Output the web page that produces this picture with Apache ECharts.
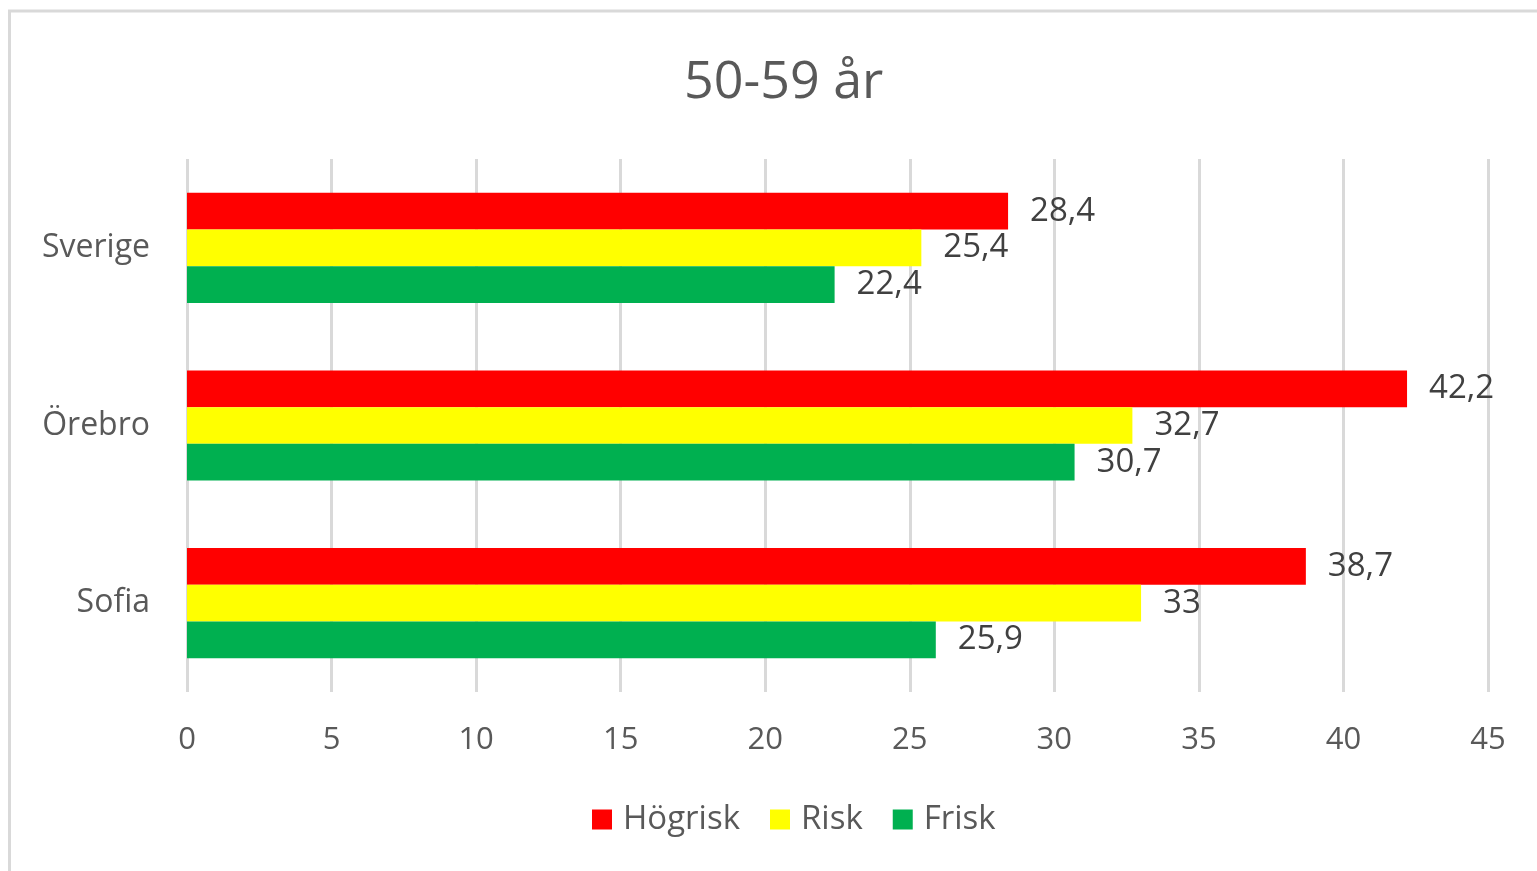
<!DOCTYPE html>
<html>
<head>
<meta charset="utf-8">
<script src="https://cdn.jsdelivr.net/npm/echarts@6/dist/echarts.min.js"></script>
<style>
html,body{margin:0;padding:0;background:#fff;}
#chart{width:1537px;height:871px;}
</style>
</head>
<body>
<div id="chart"></div>
<script>
var title = '50-59 år';
var categories = ['Sverige', 'Örebro', 'Sofia'];
var seriesNames = ['Högrisk', 'Risk', 'Frisk'];
var hogrisk = [28.4, 42.2, 38.7];
var risk = [25.4, 32.7, 33];
var frisk = [22.4, 30.7, 25.9];
var colors = ['#ff0000', '#ffff00', '#00b050'];
var seriesData = [hogrisk, risk, frisk];

var font = '"Open Sans", sans-serif';
var chart = echarts.init(document.getElementById('chart'));
chart.setOption({
  animation: false,
  backgroundColor: '#fff',
  graphic: [{
    type: 'rect',
    shape: {x: 9.5, y: 11, width: 1700, height: 1000},
    style: {fill: 'none', stroke: '#d9d9d9', lineWidth: 3},
    silent: true
  }],
  title: {
    text: title,
    left: 679,
    top: 52,
    textStyle: {fontFamily: font, fontSize: 52, fontWeight: 'normal', color: '#595959'}
  },
  legend: {
    bottom: 30,
    left: 587,
    itemWidth: 20,
    itemHeight: 20,
    itemGap: 30,
    icon: 'rect',
    textStyle: {fontFamily: font, fontSize: 33, color: '#595959', padding: [0, 0, 0, 6]},
    data: seriesNames
  },
  grid: {left: 187, right: 49, top: 159, bottom: 179, containLabel: false},
  xAxis: {
    type: 'value',
    min: 0, max: 45, interval: 5,
    axisLine: {show: false},
    axisTick: {show: false},
    splitLine: {show: true, lineStyle: {color: '#d9d9d9', width: 3}},
    axisLabel: {fontFamily: font, fontSize: 31, color: '#595959', margin: 33}
  },
  yAxis: {
    type: 'category',
    inverse: true,
    data: categories,
    axisLine: {show: false},
    axisTick: {show: false},
    axisLabel: {fontFamily: font, fontSize: 32, color: '#595959', margin: 37}
  },
  series: seriesNames.map(function (n, i) {
    return {
      name: n,
      type: 'bar',
      data: seriesData[i],
      barGap: '0%',
      barCategoryGap: '38%',
      itemStyle: {color: colors[i]},
      label: {
        show: true,
        position: 'right',
        distance: 22,
        fontFamily: font,
        fontSize: 33,
        color: '#404040',
        formatter: function (p) { return String(p.value).replace('.', ','); }
      }
    };
  })
});
</script>
</body>
</html>
